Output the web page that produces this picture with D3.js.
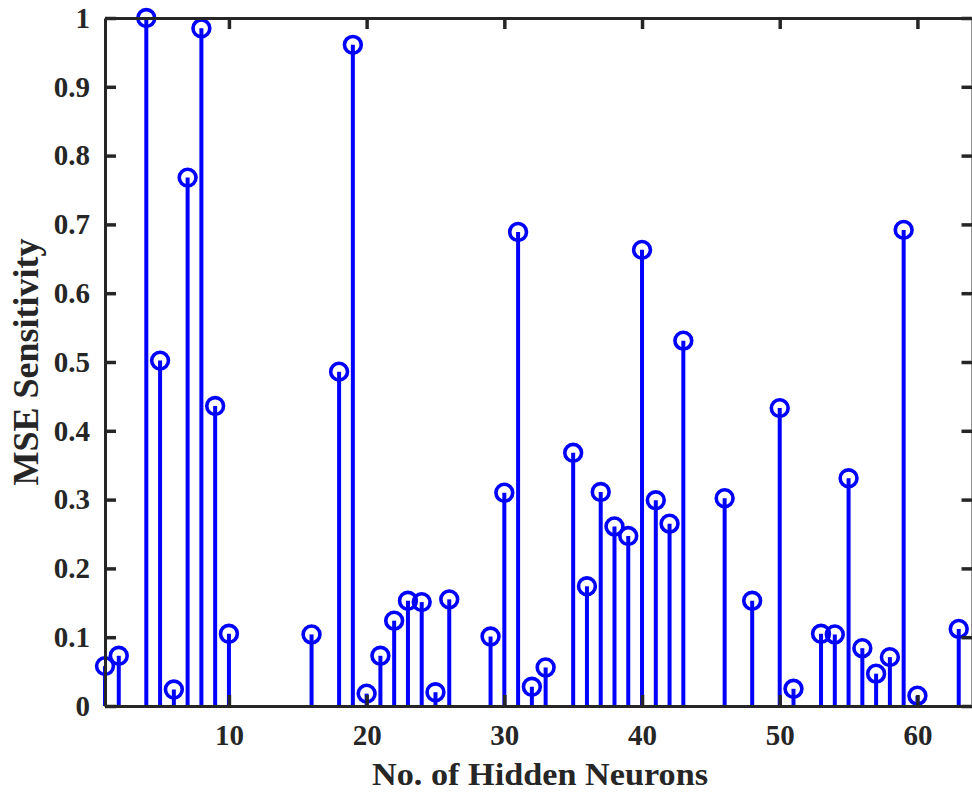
<!DOCTYPE html>
<html>
<head>
<meta charset="utf-8">
<script src="https://cdn.jsdelivr.net/npm/d3@7"></script>
<style>
	body { margin: 0; background: #ffffff; }
	svg { display: block; }
</style>
</head>
<body>
<div id="my_dataviz"></div>
<script>
// Daten: Anzahl versteckter Neuronen und MSE-Sensitivitaet
var neurons = [1, 2, 4, 5, 6, 7, 8, 9, 10, 16, 18, 19, 20, 21, 22, 23, 24, 25, 26,
	29, 30, 31, 32, 33, 35, 36, 37, 38, 39, 40, 41, 42, 43, 46, 48, 50, 51,
	53, 54, 55, 56, 57, 58, 59, 60, 63];
var sensitivity = [0.058, 0.073, 1.0, 0.502, 0.024, 0.768, 0.985, 0.436, 0.105, 0.104, 0.486, 0.961, 0.018, 0.073, 0.124, 0.153, 0.151, 0.020, 0.155,
	0.101, 0.310, 0.689, 0.028, 0.056, 0.368, 0.174, 0.311, 0.261, 0.247, 0.663, 0.299, 0.265, 0.531, 0.302, 0.153, 0.433, 0.025,
	0.105, 0.104, 0.331, 0.084, 0.047, 0.071, 0.692, 0.015, 0.112];
var xTicks = [10, 20, 30, 40, 50, 60];
var yTicks = [0, 0.1, 0.2, 0.3, 0.4, 0.5, 0.6, 0.7, 0.8, 0.9, 1];
var xLimits = [1, 64];
var yLimits = [0, 1];
var xLabel = "No. of Hidden Neurons";
var yLabel = "MSE Sensitivity";

var dimension = { width: 972, height: 794 };
var plot = { left: 105, right: 972.5, top: 18, bottom: 706 };
var axisColor = "#262626";
var stemColor = "#0000ff";
var font = "'Liberation Serif', 'Times New Roman', serif";

var svg = d3.select("#my_dataviz")
	.append("svg")
	.attr("width", dimension.width)
	.attr("height", dimension.height)
	.style("background", "#ffffff");

// Skalen
var x = d3.scaleLinear().domain(xLimits).range([plot.left, plot.right]);
var y = d3.scaleLinear().domain(yLimits).range([plot.bottom, plot.top]);

// Stiele
svg.append("g").selectAll("line")
	.data(neurons)
	.enter()
	.append("line")
	.attr("x1", function(d) { return x(d); })
	.attr("x2", function(d) { return x(d); })
	.attr("y1", y(0))
	.attr("y2", function(d, i) { return y(sensitivity[i]); })
	.attr("stroke", stemColor)
	.attr("stroke-width", 4);

// Kreise
svg.append("g").selectAll("circle")
	.data(neurons)
	.enter()
	.append("circle")
	.attr("cx", function(d) { return x(d); })
	.attr("cy", function(d, i) { return y(sensitivity[i]); })
	.attr("r", 8.4)
	.attr("fill", "none")
	.attr("stroke", stemColor)
	.attr("stroke-width", 3.6);

function styleAxis(g) {
	g.select(".domain").attr("stroke", axisColor).attr("stroke-width", 3);
	g.selectAll(".tick line").attr("stroke", axisColor).attr("stroke-width", 3.5);
	g.selectAll("text")
		.attr("fill", axisColor)
		.style("font-family", font)
		.style("font-weight", "bold")
		.style("font-size", "29px");
}

// X Achse unten
svg.append("g")
	.attr("transform", "translate(0," + plot.bottom + ")")
	.call(d3.axisBottom(x).tickValues(xTicks).tickSizeInner(-11).tickSizeOuter(0).tickPadding(18).tickFormat(d3.format("d")))
	.call(styleAxis);

// X Achse oben
svg.append("g")
	.attr("transform", "translate(0," + plot.top + ")")
	.call(d3.axisTop(x).tickValues(xTicks).tickSizeInner(-11).tickSizeOuter(0).tickFormat(""))
	.call(styleAxis);

// Y Achse links
svg.append("g")
	.attr("transform", "translate(" + plot.left + ",0)")
	.call(d3.axisLeft(y).tickValues(yTicks).tickSizeInner(-11).tickSizeOuter(0).tickPadding(15).tickFormat(function(d) { return d3.format("")(+d.toFixed(1)); }))
	.call(styleAxis);

// Y Achse rechts
svg.append("g")
	.attr("transform", "translate(" + plot.right + ",0)")
	.call(d3.axisRight(y).tickValues(yTicks).tickSizeInner(-11).tickSizeOuter(0).tickFormat(""))
	.call(styleAxis);

// X-Beschriftung
svg.append("text")
	.attr("x", 540)
	.attr("y", 785)
	.attr("text-anchor", "middle")
	.attr("fill", axisColor)
	.attr("textLength", 336)
	.attr("lengthAdjust", "spacingAndGlyphs")
	.text(xLabel)
	.style("font-family", font)
	.style("font-weight", "bold")
	.style("font-size", "32px");

// Y-Beschriftung
svg.append("text")
	.attr("transform", "translate(38," + (plot.top + plot.bottom) / 2 + ")rotate(-90)")
	.attr("text-anchor", "middle")
	.attr("fill", axisColor)
	.text(yLabel)
	.style("font-family", font)
	.style("font-weight", "bold")
	.style("font-size", "36px");
</script>
</body>
</html>
